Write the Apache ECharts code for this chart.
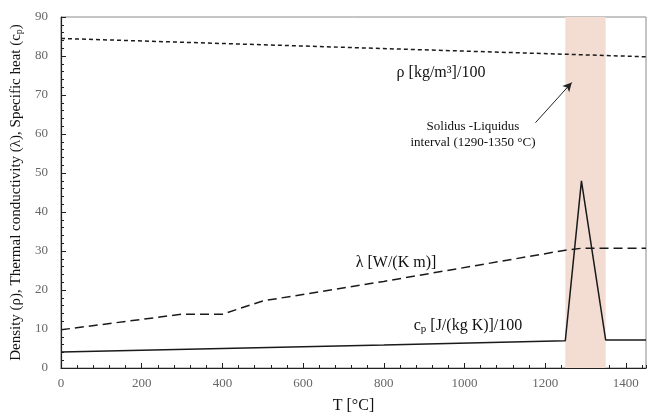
<!DOCTYPE html>
<html><head><meta charset="utf-8">
<script src="https://cdn.jsdelivr.net/npm/echarts@6/dist/echarts.min.js"></script>
<style>html,body{margin:0;padding:0;background:#fff}#c{width:649px;height:419px}</style>
</head><body><div id="c"></div>
<script>
// Data
const temperature_density = [0, 1450];
const density = [84.5, 79.8];               // rho [kg/m3]/100
const temperature_lambda = [0, 300, 400, 500, 800, 1250, 1290, 1450];
const lambda = [9.8, 13.8, 13.8, 17.2, 22.2, 30.2, 30.7, 30.7]; // W/(K m)
const temperature_cp = [0, 400, 800, 1250, 1290, 1350, 1450];
const cp = [4.1, 5.0, 5.9, 7.0, 48.0, 7.2, 7.2]; // J/(kg K)/100
const solidusLiquidus = [1250, 1350];
const xTicks = [0, 200, 400, 600, 800, 1000, 1200, 1400];
const yTicks = [0, 10, 20, 30, 40, 50, 60, 70, 80, 90];
const arrowFrom = [1176, 62.9];
const arrowTo = [1266, 73.2];

const pairs = (xs, ys) => xs.map((x, i) => [x, ys[i]]);
const FONT = '"Liberation Serif", "DejaVu Serif", serif';

const chart = echarts.init(document.getElementById('c'));
chart.setOption({
  animation: false,
  grid: { left: 61, right: 3, top: 17, bottom: 50, show: true, borderColor: '#8a8a8a', borderWidth: 1 },
  xAxis: [{
    type: 'value', min: 0, max: 1450, interval: 200,
    name: 'T [°C]', nameLocation: 'middle', nameGap: 30,
    nameTextStyle: { fontFamily: FONT, fontSize: 16, color: '#111' },
    axisLine: { lineStyle: { color: '#222', width: 1.2 } },
    axisTick: { inside: true, length: 5, lineStyle: { color: '#222' } },
    axisLabel: { fontFamily: FONT, fontSize: 13, color: '#666', margin: 9, showMaxLabel: false,
      formatter: v => xTicks.includes(v) ? String(v) : '' },
    splitLine: { show: false }
  }, {
    type: 'value', min: 0, max: 1450, interval: 40, position: 'bottom',
    axisLine: { show: false }, axisLabel: { show: false }, splitLine: { show: false },
    axisTick: { inside: true, length: 3, lineStyle: { color: '#222' } }
  }],
  yAxis: [{
    type: 'value', min: 0, max: 90, interval: 10,
    name: 'Density (ρ), Thermal conductivity (λ), Specific heat (c{sub|p})',
    nameLocation: 'middle', nameGap: 32, nameRotate: 90,
    nameTextStyle: { fontFamily: FONT, fontSize: 15, color: '#111',
      rich: { sub: { fontFamily: FONT, fontSize: 10, color: '#111', verticalAlign: 'bottom', padding: [6, 0, 0, 0] } } },
    axisLine: { show: true, lineStyle: { color: '#222', width: 1.2 } },
    axisTick: { show: true, inside: true, length: 5, lineStyle: { color: '#222' } },
    axisLabel: { fontFamily: FONT, fontSize: 13, color: '#666', margin: 13,
      formatter: v => yTicks.includes(v) ? String(v) : '' },
    splitLine: { show: false }
  }, {
    type: 'value', min: 0, max: 90, interval: 2, position: 'left',
    axisLine: { show: false }, axisLabel: { show: false }, splitLine: { show: false },
    axisTick: { show: true, inside: true, length: 3, lineStyle: { color: '#222' } }
  }],
  series: [
    {
      name: 'cp', type: 'line', data: pairs(temperature_cp, cp), symbol: 'none',
      lineStyle: { color: '#1a1a1a', width: 1.5 }, z: 3,
      markArea: { silent: true, itemStyle: { color: '#f3ddd3' },
        data: [[{ xAxis: solidusLiquidus[0] }, { xAxis: solidusLiquidus[1] }]] },
      markLine: { silent: true, symbol: ['none', 'arrow'], symbolSize: [7, 9],
        lineStyle: { color: '#222', width: 1, type: 'solid' }, label: { show: false },
        data: [[{ coord: arrowFrom }, { coord: arrowTo }]] }
    },
    {
      name: 'lambda', type: 'line', data: pairs(temperature_lambda, lambda), symbol: 'none',
      lineStyle: { color: '#1a1a1a', width: 1.5, type: [9, 5] }, z: 3
    },
    {
      name: 'rho', type: 'line', data: pairs(temperature_density, density), symbol: 'none',
      lineStyle: { color: '#1a1a1a', width: 1.5, type: [4, 3] }, z: 3
    }
  ],
  graphic: [
    { type: 'text', x: 441, y: 73, style: { text: 'ρ [kg/m³]/100', font: '16px ' + FONT, fill: '#111', align: 'center', verticalAlign: 'middle' } },
    { type: 'text', x: 396, y: 263, style: { text: 'λ [W/(K m)]', font: '16px ' + FONT, fill: '#111', align: 'center', verticalAlign: 'middle' } },
    { type: 'text', x: 468, y: 326, style: { text: 'c{sub|p} [J/(kg K)]/100', font: '16px ' + FONT, fill: '#111', align: 'center', verticalAlign: 'middle',
      rich: { sub: { font: '11px ' + FONT, fill: '#111', verticalAlign: 'bottom', padding: [6, 0, 0, 0] } } } },
    { type: 'text', x: 473, y: 127, style: { text: 'Solidus -Liquidus', font: '13px ' + FONT, fill: '#111', align: 'center', verticalAlign: 'middle' } },
    { type: 'text', x: 473, y: 143, style: { text: 'interval (1290-1350 °C)', font: '13px ' + FONT, fill: '#111', align: 'center', verticalAlign: 'middle' } }
  ]
});
</script></body></html>
